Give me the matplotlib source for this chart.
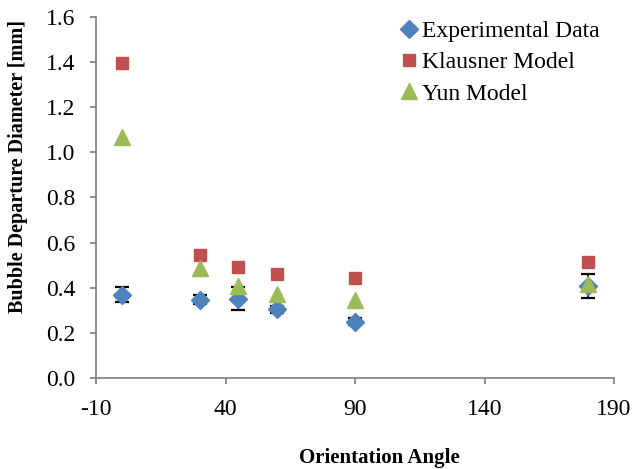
import numpy as np
import matplotlib
matplotlib.use('Agg')
import matplotlib.pyplot as plt

# data
angle = [0, 30, 45, 60, 90, 180]
exp_d = [0.37, 0.347, 0.352, 0.304, 0.25, 0.408]
exp_err = [0.034, 0.02, 0.05, 0.015, 0.015, 0.053]
klausner = [1.395, 0.545, 0.492, 0.462, 0.442, 0.516]
yun = [1.066, 0.488, 0.409, 0.372, 0.346, 0.417]

plt.rcParams['font.family'] = ['Liberation Serif', 'DejaVu Serif']
plt.rcParams['axes.unicode_minus'] = False

fig = plt.figure(figsize=(6.32, 4.69), dpi=100)
ax = fig.add_axes([0.152, 0.194, 0.8195, 0.7698])

grey = '#868686'

# error bars first, then markers on top
ax.errorbar(angle, exp_d, yerr=exp_err, fmt='none', ecolor='black',
            elinewidth=1.2, capsize=5, capthick=1.6, zorder=2)
ax.plot(angle, exp_d, 'D', color='#4F81BD', markersize=9,
        label='Experimental Data', zorder=3)
ax.plot(angle, klausner, 's', color='#C0504D', markersize=9,
        label='Klausner Model', zorder=3)
ax.plot(angle, yun, '^', color='#9BBB59', markersize=11,
        label='Yun Model', zorder=4)

ax.set_xlim(-10, 190)
ax.set_ylim(0, 1.6)
ax.set_xticks(np.arange(-10, 191, 50))
ax.set_yticks(np.arange(0, 1.61, 0.2))
ax.set_yticklabels(['%.1f' % v for v in np.arange(0, 1.61, 0.2)])

for s in ['top', 'right']:
    ax.spines[s].set_visible(False)
for s in ['left', 'bottom']:
    ax.spines[s].set_color(grey)
    ax.spines[s].set_linewidth(1.3)
ax.tick_params(axis='both', colors=grey, labelcolor='black',
               labelsize=17, length=4, width=1.3, direction='out')
ax.tick_params(axis='x', pad=11)
ax.tick_params(axis='y', pad=11)

ax.set_xlabel('Orientation Angle', fontsize=15, fontweight='bold')
ax.set_ylabel('Bubble Departure Diameter [mm]', fontsize=14.5,
              fontweight='bold')
ax.xaxis.set_label_coords(0.547, -0.193)
ax.yaxis.set_label_coords(-0.131, 0.585)

ax.legend(loc='upper right', bbox_to_anchor=(1.0, 1.03), frameon=False,
          fontsize=17, handletextpad=0.0, handlelength=1.1,
          labelspacing=0.42, borderaxespad=0.2)

fig.savefig('out.png', dpi=100)
